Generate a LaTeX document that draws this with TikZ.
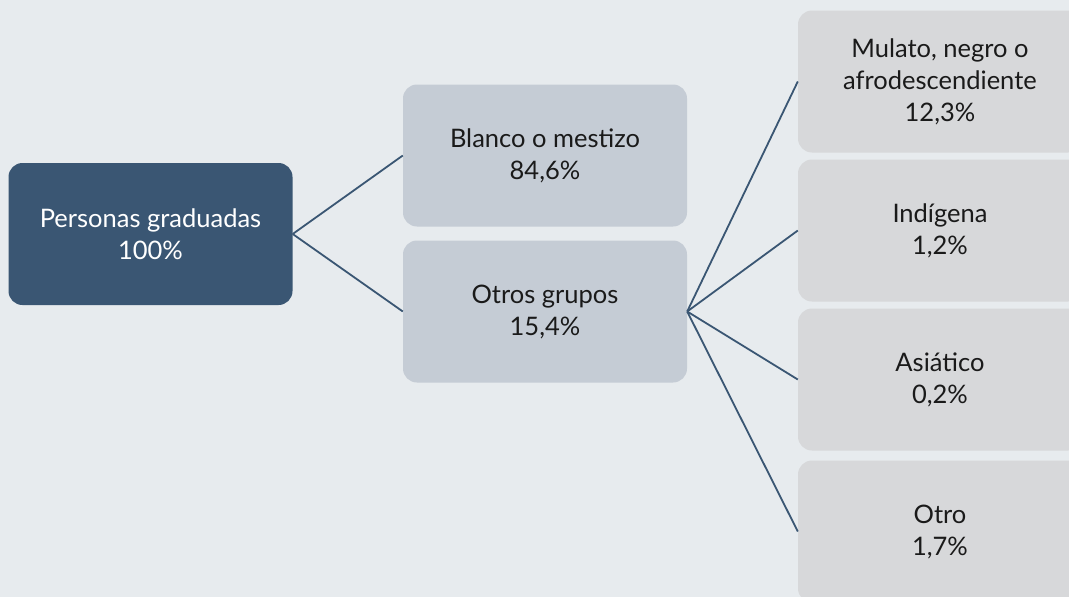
\documentclass[tikz,border=0pt]{standalone}
\usepackage{fontspec}
\setmainfont{Lato}
\definecolor{fondo}{HTML}{E7EBEE}
\definecolor{azul}{HTML}{3A5673}
\definecolor{grisazul}{HTML}{C5CCD5}
\definecolor{gris}{HTML}{D7D8DA}
\definecolor{texto}{HTML}{1A1A1A}
\tikzset{
  caja/.style = {rounded corners = 14pt, align = center, inner sep = 0pt,
                 minimum width = 284pt, minimum height = 142pt,
                 text = texto, font = \fontsize{25.5}{32}\selectfont},
  raiz/.style = {caja, fill = azul, text = white},
  medio/.style = {caja, fill = grisazul},
  hoja/.style = {caja, fill = gris},
  rama/.style = {draw = azul, line width = 1.8pt}
}
\begin{document}
\begin{tikzpicture}[x = 1pt, y = -1pt]
    \fill[fondo] (0, 0) rectangle (1069, 597);
    \clip (0, 0) rectangle (1069, 597);

    \node[raiz]  (graduadas) at (150.5, 234)  {Personas graduadas\\100\%};
    \node[medio] (blanco)    at (545, 155.5)  {Blanco o mestizo\\84,6\%};
    \node[medio] (otros)     at (545, 311.5)  {Otros grupos\\15,4\%};

    \node[hoja]  (mulato)    at (940, 81.5)   {Mulato, negro o\\afrodescendiente\\12,3\%};
    \node[hoja]  (indigena)  at (940, 230.5)  {Indígena\\1,2\%};
    \node[hoja]  (asiatico)  at (940, 379.5)  {Asiático\\0,2\%};
    \node[hoja]  (otro)      at (940, 531.5)  {Otro\\1,7\%};

    \draw[rama] (graduadas.east) -- (blanco.west);
    \draw[rama] (graduadas.east) -- (otros.west);
    \draw[rama] (otros.east) -- (mulato.west);
    \draw[rama] (otros.east) -- (indigena.west);
    \draw[rama] (otros.east) -- (asiatico.west);
    \draw[rama] (otros.east) -- (otro.west);
\end{tikzpicture}
\end{document}
